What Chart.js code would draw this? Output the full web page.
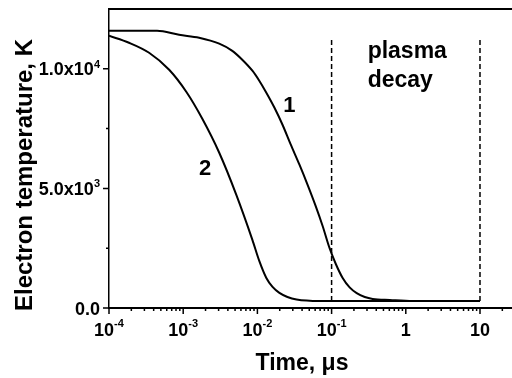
<!DOCTYPE html>
<html>
<head>
<meta charset="utf-8">
<script src="https://cdn.jsdelivr.net/npm/chart.js@4/dist/chart.umd.min.js"></script>
<style>
  html, body { margin: 0; padding: 0; background: #fff; }
  #wrap { width: 512px; height: 378px; position: relative; }
</style>
</head>
<body>
<div id="wrap"><canvas id="myChart"></canvas></div>
<script>
// curve 1 : time (us) / electron temperature (K)
const curve1Time = [1e-4, 4.45e-4, 8.8e-4, 1.64e-3, 3.06e-3, 4.59e-3, 6.25e-3, 8.56e-3,
  1.06e-2, 1.32e-2, 1.7e-2, 2.18e-2, 2.79e-2, 3.7e-2, 4.75e-2, 6.09e-2, 7.57e-2,
  9.4e-2, 0.114, 0.141, 0.175, 0.218, 0.28, 0.358, 0.61, 1.24, 10];
const curve1Temp = [11590, 11590, 11420, 11300, 11050, 10750, 10380, 9920,
  9500, 9000, 8370, 7660, 6860, 5980, 5150, 4270, 3430,
  2500, 1840, 1255, 860, 620, 460, 380, 335, 293, 293];

// curve 2
const curve2Time = [1e-4, 1.86e-4, 3.47e-4, 6.47e-4, 1.1e-3, 1.81e-3, 3.06e-3, 5.2e-3,
  8.56e-3, 1.06e-2, 1.32e-2, 1.6e-2, 1.98e-2, 2.54e-2, 3.37e-2, 6.88e-2, 10];
const curve2Temp = [11380, 11090, 10670, 9960, 9040, 7910, 6490, 4730,
  2850, 1970, 1255, 880, 630, 460, 355, 293, 293];

// dashed markers of the plasma decay window
const decayTimes = [0.1, 10];
const decayRange = [293, 11210];

// ticks
const xMajorTicks = [1e-4, 1e-3, 1e-2, 1e-1, 1, 10];
const xTickBase = ['10', '10', '10', '10', '1', '10'];
const xTickExp = ['-4', '-3', '-2', '-1', '', ''];
const yMajorTicks = [0, 5000, 10000];
const yTickBase = ['0.0', '5.0x10', '1.0x10'];
const yTickExp = ['', '3', '4'];
const yMinorTicks = [2500, 7500];

// text annotations, anchored in data units
const notes = [
  {text: '1', x: 0.027, y: 8200, align: 'center', size: 22},
  {text: '2', x: 0.00198, y: 5565, align: 'center', size: 22},
  {text: 'plasma', x: 0.306, y: 10460, align: 'left', size: 23},
  {text: 'decay', x: 0.306, y: 9247, align: 'left', size: 23},
];

const FONT = '"Liberation Sans", Arial, sans-serif';

function toPoints(xs, ys) {
  return xs.map((x, i) => ({x: x, y: ys[i]}));
}

const datasets = [
  {data: toPoints(curve1Time, curve1Temp), cubicInterpolationMode: 'monotone'},
  {data: toPoints(curve2Time, curve2Temp), cubicInterpolationMode: 'monotone'},
];
decayTimes.forEach((t) => {
  datasets.push({
    data: decayRange.map((v) => ({x: t, y: v})),
    borderDash: [5, 3],
    borderWidth: 1.5,
  });
});

// draws the frame ticks, the labels with superscripts, titles and notes
const decorPlugin = {
  id: 'decor',
  afterDraw(chart) {
    const ctx = chart.ctx;
    const area = chart.chartArea;
    const xs = chart.scales.x;
    const ys = chart.scales.y;
    ctx.save();
    ctx.strokeStyle = '#000';
    ctx.fillStyle = '#000';

    // top frame line
    ctx.lineWidth = 2;
    ctx.beginPath();
    ctx.moveTo(area.left, area.top);
    ctx.lineTo(area.right, area.top);
    ctx.stroke();

    // tick marks
    ctx.lineWidth = 1.5;
    const xMinor = [];
    for (let e = -4; e <= 1; e++) {
      for (let m = 2; m <= 9; m++) {
        const v = m * Math.pow(10, e);
        if (v <= xs.max) xMinor.push(v);
      }
    }
    ctx.beginPath();
    xMajorTicks.forEach((v) => {
      const p = xs.getPixelForValue(v);
      ctx.moveTo(p, area.bottom);
      ctx.lineTo(p, area.bottom + 6);
    });
    xMinor.forEach((v) => {
      const p = xs.getPixelForValue(v);
      ctx.moveTo(p, area.bottom);
      ctx.lineTo(p, area.bottom + 3);
    });
    yMajorTicks.forEach((v) => {
      const p = ys.getPixelForValue(v);
      ctx.moveTo(area.left, p);
      ctx.lineTo(area.left - 6, p);
    });
    yMinorTicks.forEach((v) => {
      const p = ys.getPixelForValue(v);
      ctx.moveTo(area.left, p);
      ctx.lineTo(area.left - 3, p);
    });
    ctx.stroke();

    const baseFont = 'bold 18px ' + FONT;
    const supFont = 'bold 11px ' + FONT;
    ctx.textBaseline = 'alphabetic';
    ctx.textAlign = 'left';

    // x tick labels
    xMajorTicks.forEach((v, i) => {
      const p = xs.getPixelForValue(v);
      ctx.font = baseFont;
      const wb = ctx.measureText(xTickBase[i]).width;
      ctx.font = supFont;
      const we = xTickExp[i] ? ctx.measureText(xTickExp[i]).width : 0;
      const x0 = p - (wb + we) / 2;
      const base = area.bottom + 28;
      ctx.font = baseFont;
      ctx.fillText(xTickBase[i], x0, base);
      if (we) {
        ctx.font = supFont;
        ctx.fillText(xTickExp[i], x0 + wb, base - 9);
      }
    });

    // y tick labels
    yMajorTicks.forEach((v, i) => {
      const p = ys.getPixelForValue(v);
      ctx.font = baseFont;
      const wb = ctx.measureText(yTickBase[i]).width;
      ctx.font = supFont;
      const we = yTickExp[i] ? ctx.measureText(yTickExp[i]).width : 0;
      const x1 = area.left - 9;
      ctx.font = baseFont;
      ctx.fillText(yTickBase[i], x1 - we - wb, p + 6.5);
      if (we) {
        ctx.font = supFont;
        ctx.fillText(yTickExp[i], x1 - we, p - 1);
      }
    });

    // axis titles
    ctx.font = 'bold 23px ' + FONT;
    ctx.textAlign = 'center';
    ctx.fillText('Time, \u03bcs', 302, 370);
    ctx.save();
    ctx.font = 'bold 24px ' + FONT;
    ctx.translate(32, 175);
    ctx.rotate(-Math.PI / 2);
    ctx.fillText('Electron temperature, K', 0, 0);
    ctx.restore();

    // notes
    notes.forEach((n) => {
      ctx.font = 'bold ' + n.size + 'px ' + FONT;
      ctx.textAlign = n.align;
      ctx.fillText(n.text, xs.getPixelForValue(n.x), ys.getPixelForValue(n.y));
    });
    ctx.restore();
  },
};

new Chart(document.getElementById('myChart'), {
  type: 'line',
  data: {datasets: datasets},
  options: {
    responsive: true,
    maintainAspectRatio: false,
    animation: false,
    layout: {padding: {top: 9, right: 0, left: 0, bottom: 0}},
    elements: {
      point: {radius: 0},
      line: {borderColor: '#000', borderWidth: 2, fill: false},
    },
    plugins: {legend: {display: false}, tooltip: {enabled: false}},
    scales: {
      x: {
        type: 'logarithmic',
        min: 1e-4,
        max: 27,
        grid: {display: false},
        border: {display: true, color: '#000', width: 2},
        ticks: {display: false},
        afterFit: (s) => { s.height = 70; },
      },
      y: {
        type: 'linear',
        min: 0,
        max: 12500,
        grid: {display: false},
        border: {display: true, color: '#000', width: 1.5},
        ticks: {display: false},
        afterFit: (s) => { s.width = 109; },
      },
    },
  },
  plugins: [decorPlugin],
});
</script>
</body>
</html>
